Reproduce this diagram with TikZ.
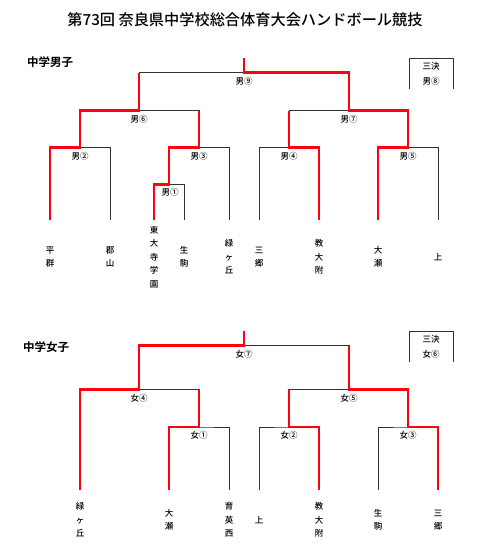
\documentclass[tikz,border=0pt]{standalone}
\usepackage{fontspec}
\setmainfont{Noto Sans CJK JP}[UprightFont=* Medium, BoldFont=* Bold]
\usepackage{xcolor}
\definecolor{winred}{RGB}{255,0,18}

\tikzset{
  bline/.style={draw=black!80, line width=0.8pt},
  rline/.style={draw=winred, line width=2.6pt, line join=miter},
  mlabel/.style={font=\fontsize{8.5}{10}\selectfont, inner sep=0pt},
  team/.style={font=\fontsize{8.5}{13.5}\selectfont, align=center, inner sep=0pt},
  section/.style={font=\fontsize{11.5}{14}\bfseries\selectfont, anchor=west, inner sep=0pt},
}

\begin{document}
\begin{tikzpicture}[x=1pt,y=-1pt]
\useasboundingbox (0,0) rectangle (480,550);
\node[font=\fontsize{15.2}{18}\selectfont, inner sep=0pt] (title) at (245,20) {第73回 奈良県中学校総合体育大会ハンドボール競技};

\node[section] (boys) at (27,62) {中学男子};
\coordinate (b1) at (50,220);
\coordinate (b2) at (110,220);
\coordinate (b3) at (154,220);
\coordinate (b4) at (184,220);
\coordinate (b5) at (229,220);
\coordinate (b6) at (259,220);
\coordinate (b7) at (319,220);
\coordinate (b8) at (378,220);
\coordinate (b9) at (438,220);
\coordinate (m1) at (169,184.3);
\coordinate (m2) at (80,147.3);
\coordinate (m3) at (199,147.3);
\coordinate (m4) at (289,147.3);
\coordinate (m5) at (408,147.3);
\coordinate (m6) at (139,110.7);
\coordinate (m7) at (349,110.7);
\coordinate (m9) at (244,72.7);
\coordinate (btop) at (244,58);
\draw[bline] (b3) |- (m1) -| (b4);
\draw[bline] (b1) |- (m2) -| (b2);
\draw[bline] (m1) |- (m3) -| (b5);
\draw[bline] (b6) |- (m4) -| (b7);
\draw[bline] (b8) |- (m5) -| (b9);
\draw[bline] (m2) |- (m6) -| (m3);
\draw[bline] (m4) |- (m7) -| (m5);
\draw[bline] (m6) |- (m9) -| (m7);
\draw[bline] (m9) -- (btop);
\draw[rline] (b1) |- (m2) |- (m6) -- (m6 |- m9);
\draw[rline] (b3) |- (m1) |- (m3) -- (m3 |- m6);
\draw[rline] (b7) |- (m4) -- (m4 |- m7);
\draw[rline] (b8) |- (m5) |- (m7) |- (m9) -- (btop);
\node[mlabel, yshift=-8pt] (l1) at ([xshift=1pt]m1) {男①};
\node[mlabel, yshift=-8.5pt] (l2) at (m2) {男②};
\node[mlabel, yshift=-8.5pt] (l3) at (m3) {男③};
\node[mlabel, yshift=-8.5pt] (l4) at (m4) {男④};
\node[mlabel, yshift=-8.5pt] (l5) at (m5) {男⑤};
\node[mlabel, yshift=-8.5pt] (l6) at (m6) {男⑥};
\node[mlabel, yshift=-8.5pt] (l7) at (m7) {男⑦};
\node[mlabel, yshift=-8.5pt] (l9) at (m9) {男⑨};
\node[team] (t1) at (50,257) {平\\群};
\node[team] (t2) at (110,257) {郡\\山};
\node[team] (t3) at (154,257) {東\\大\\寺\\学\\園};
\node[team] (t4) at (184,257) {生\\駒};
\node[team] (t5) at (229,257) {緑\\ヶ\\丘};
\node[team] (t6) at (259,257) {三\\郷};
\node[team] (t7) at (319,257) {教\\大\\附};
\node[team] (t8) at (378,257) {大\\瀬};
\node[team] (t9) at (438,257) {上};
\coordinate (bx1) at (409,89);
\coordinate (bx2) at (409,58);
\coordinate (bx3) at (453,58);
\coordinate (bx4) at (453,89);
\draw[bline] (bx1) -- (bx2) -- (bx3) -- (bx4);
\node[mlabel] (b3rd) at (431,66) {三決};
\node[mlabel] (l8) at (431,81) {男⑧};

\node[section] (girls) at (23,347) {中学女子};
\coordinate (g1) at (80,490);
\coordinate (g2) at (169,490);
\coordinate (g3) at (229,490);
\coordinate (g4) at (259,490);
\coordinate (g5) at (319,490);
\coordinate (g6) at (378,490);
\coordinate (g7) at (438,490);
\coordinate (w1) at (199,427);
\coordinate (w2) at (289,427);
\coordinate (w3) at (408,427);
\coordinate (w4) at (139,389.3);
\coordinate (w5) at (349,389.3);
\coordinate (w7) at (244,345.7);
\coordinate (gtop) at (244,330.7);
\draw[bline] (g2) |- (w1) -| (g3);
\draw[bline] (g4) |- (w2) -| (g5);
\draw[bline] (g6) |- (w3) -| (g7);
\draw[bline] (g1) |- (w4) -| (w1);
\draw[bline] (w2) |- (w5) -| (w3);
\draw[bline] (w4) |- (w7) -| (w5);
\draw[bline] (w7) -- (gtop);
\draw[rline] (g1) |- (w4) |- (w7) -- (gtop);
\draw[rline] (g2) |- (w1) -- (w1 |- w4);
\draw[rline] (g5) |- (w2) -- (w2 |- w5);
\draw[rline] (g7) |- (w3) |- (w5) -- (w5 |- w7);
\node[mlabel, yshift=-8.5pt] (k1) at (w1) {女①};
\node[mlabel, yshift=-8.5pt] (k2) at (w2) {女②};
\node[mlabel, yshift=-8.5pt] (k3) at (w3) {女③};
\node[mlabel, yshift=-8.5pt] (k4) at (w4) {女④};
\node[mlabel, yshift=-8.5pt] (k5) at (w5) {女⑤};
\node[mlabel, yshift=-8.5pt] (k7) at (w7) {女⑦};
\node[team] (s1) at (80,520) {緑\\ヶ\\丘};
\node[team] (s2) at (169,520) {大\\瀬};
\node[team] (s3) at (229,520) {育\\英\\西};
\node[team] (s4) at (259,520) {上};
\node[team] (s5) at (319,520) {教\\大\\附};
\node[team] (s6) at (378,520) {生\\駒};
\node[team] (s7) at (438,520) {三\\郷};
\coordinate (gx1) at (409,362);
\coordinate (gx2) at (409,331);
\coordinate (gx3) at (453,331);
\coordinate (gx4) at (453,362);
\draw[bline] (gx1) -- (gx2) -- (gx3) -- (gx4);
\node[mlabel] (g3rd) at (431,339) {三決};
\node[mlabel] (k6) at (431,354) {女⑥};
\end{tikzpicture}
\end{document}
